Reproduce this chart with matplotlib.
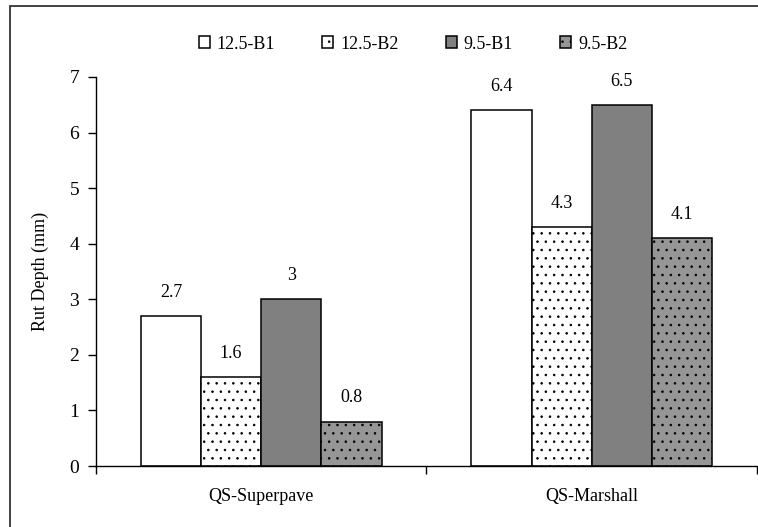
import matplotlib
matplotlib.use('Agg')
import matplotlib.pyplot as plt
from matplotlib.patches import Rectangle
import numpy as np

# Rut depth results per mix design method
categorias = ['QS-Superpave', 'QS-Marshall']
series = ['12.5-B1', '12.5-B2', '9.5-B1', '9.5-B2']
rut_12_5_b1 = [2.7, 6.4]
rut_12_5_b2 = [1.6, 4.3]
rut_9_5_b1 = [3.0, 6.5]
rut_9_5_b2 = [0.8, 4.1]

plt.rcParams['font.family'] = ['Liberation Serif', 'DejaVu Serif']
plt.rcParams['font.size'] = 13
plt.rcParams['hatch.linewidth'] = 0.6

fig = plt.figure(figsize=(7.58, 5.27), dpi=100)
ax = fig.add_axes([0.1266, 0.1157, 0.872, 0.7382])

# marco exterior del grafico
fig.patches.append(Rectangle((10 / 758, -0.1), 1.2, 1.1 - 6 / 527,
                             transform=fig.transFigure, fill=False,
                             edgecolor='#222222', linewidth=1.2))

estilos = [
    dict(color='white', hatch=None),
    dict(color='white', hatch='..'),
    dict(color='#808080', hatch=None),
    dict(color='#969696', hatch='..'),
]
valores = [rut_12_5_b1, rut_12_5_b2, rut_9_5_b1, rut_9_5_b2]

x = np.arange(len(categorias))
w = 0.182
for i, (nombre, vals, est) in enumerate(zip(series, valores, estilos)):
    pos = x + (i - 1.5) * w
    bars = ax.bar(pos, vals, w, color=est['color'], hatch=est['hatch'],
                  edgecolor='black', linewidth=1.1, label=nombre)
    for b, v in zip(bars, vals):
        ax.annotate(f'{v:g}', (b.get_x() + b.get_width() / 2, v),
                    xytext=(0, 11), textcoords='offset points',
                    ha='center', va='bottom', fontsize=13)

ax.set_xlim(-0.5, 1.5)
ax.set_ylim(0, 7)
ax.set_yticks(range(0, 8))
ax.set_xticks(x)
ax.set_xticklabels(categorias)
ax.set_xticks([-0.5, 0.5, 1.5], minor=True)
ax.tick_params(axis='x', which='major', length=0, pad=16)
ax.tick_params(axis='x', which='minor', length=6, width=1)
ax.tick_params(axis='y', length=6, width=1, pad=6, labelsize=14)
ax.spines['top'].set_visible(False)
ax.spines['right'].set_visible(False)
for s in ['left', 'bottom']:
    ax.spines[s].set_linewidth(1)
ax.set_ylabel('Rut Depth (mm)', labelpad=15)

fig.legend(loc='center', bbox_to_anchor=(0.545, 0.9165), ncol=4,
           frameon=False, handlelength=0.6, handleheight=0.6,
           handletextpad=0.4, columnspacing=2.6)

plt.savefig('out.png', dpi=100)
